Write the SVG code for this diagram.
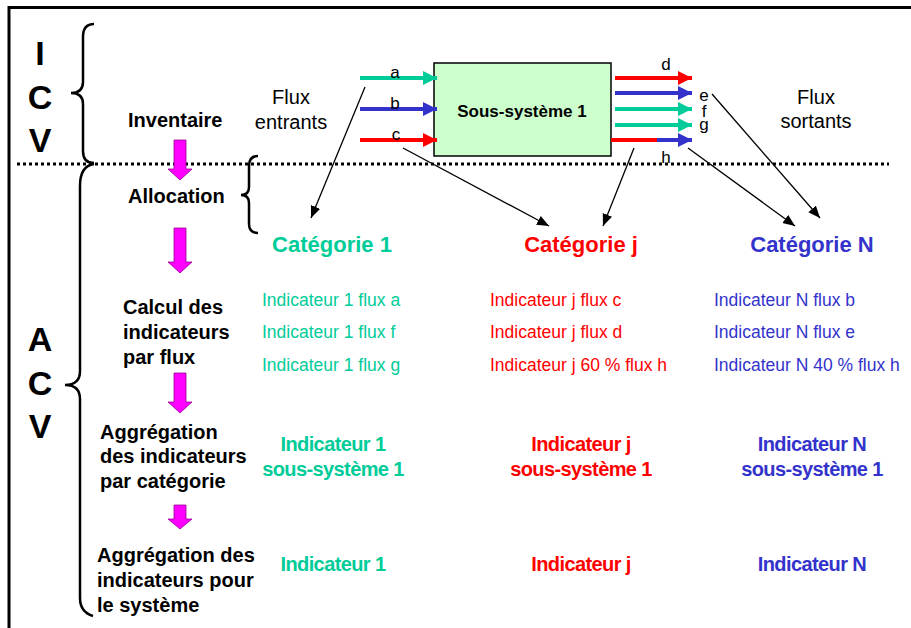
<svg xmlns="http://www.w3.org/2000/svg" width="911" height="628" viewBox="0 0 911 628">
<style>
text{font-family:"Liberation Sans",Arial,sans-serif}
.big{font-size:34px;font-weight:bold;fill:#000;text-anchor:middle}
.lbl{font-size:20px;font-weight:bold;fill:#000}
.flux{font-size:20px;fill:#000;text-anchor:middle}
.let{font-size:17px;fill:#000}
.cat{font-size:22px;font-weight:bold;text-anchor:middle}
.ind{font-size:17.5px}
.agg{font-size:20px;font-weight:bold;text-anchor:middle;letter-spacing:-0.6px}
.teal{fill:#00CC99}.red{fill:#FF0000}.blue{fill:#3333CC}
.brace{fill:none;stroke:#000;stroke-width:2.5}
.thin{stroke:#000;stroke-width:1.3;fill:none}
.fl{stroke-width:4;fill:none}
.mag{fill:#FF00FF;stroke:#990099;stroke-width:0.8}
</style>
<defs>
<marker id="mt" markerUnits="userSpaceOnUse" markerWidth="15" markerHeight="15" refX="14" refY="7" orient="auto"><path d="M0,0 L14,7 L0,14 z" fill="#00CC99"/></marker>
<marker id="mb" markerUnits="userSpaceOnUse" markerWidth="15" markerHeight="15" refX="14" refY="7" orient="auto"><path d="M0,0 L14,7 L0,14 z" fill="#3333CC"/></marker>
<marker id="mr" markerUnits="userSpaceOnUse" markerWidth="15" markerHeight="15" refX="14" refY="7" orient="auto"><path d="M0,0 L14,7 L0,14 z" fill="#FF0000"/></marker>
<marker id="mk" markerUnits="userSpaceOnUse" markerWidth="13" markerHeight="11" refX="12" refY="5" orient="auto"><path d="M0,0 L12,5 L0,10 z" fill="#000"/></marker>
</defs>
<rect width="911" height="628" fill="#fff"/>
<!-- frame -->
<path d="M9,628 L9,7.5 L911,7.5" fill="none" stroke="#000" stroke-width="3"/>
<!-- dotted separator -->
<line x1="17" y1="164" x2="889" y2="164" stroke="#000" stroke-width="3" stroke-dasharray="3 3"/>
<!-- big letters -->
<g id="icv">
<text class="big" x="40" y="65">I</text>
<text class="big" x="40" y="109">C</text>
<text class="big" x="40" y="152">V</text>
<path class="brace" d="M94,24 Q83,24 83,37 L83,82 Q83,93 71,93 Q83,93 83,104 L83,151 Q83,163 94,163"/>
</g>
<g id="acv">
<text class="big" x="40" y="351">A</text>
<text class="big" x="40" y="395">C</text>
<text class="big" x="40" y="438">V</text>
<path class="brace" d="M94,164 Q80,166 80,186 L80,371 Q80,385 65,385 Q80,385 80,399 L80,598 Q80,612 93,616"/>
</g>
<g id="allocation-brace">
<path class="brace" d="M258,156 Q249,156 249,166 L249,187 Q249,195 241,195 Q249,195 249,203 L249,224 Q249,233 258,233"/>
</g>
<!-- step labels -->
<g id="inventaire"><text class="lbl" x="128" y="127">Inventaire</text></g>
<g id="allocation"><text class="lbl" x="128" y="203">Allocation</text></g>
<g id="calcul"><text class="lbl" x="123" y="314">Calcul des</text><text class="lbl" x="123" y="339">indicateurs</text><text class="lbl" x="123" y="364">par flux</text></g>
<g id="aggregation-cat"><text class="lbl" x="100" y="439">Aggrégation</text><text class="lbl" x="100" y="463">des indicateurs</text><text class="lbl" x="100" y="488">par catégorie</text></g>
<g id="aggregation-sys"><text class="lbl" x="97" y="562">Aggrégation des</text><text class="lbl" x="97" y="587">indicateurs pour</text><text class="lbl" x="97" y="612">le système</text></g>
<!-- magenta step arrows -->
<g id="step-arrows">
<path class="mag" d="M174,140 L186,140 L186,169 L192,169 L180,180 L168,169 L174,169 z"/>
<path class="mag" d="M174,228 L186,228 L186,262 L192,262 L180,273 L168,262 L174,262 z"/>
<path class="mag" d="M174,373 L186,373 L186,402 L192,402 L180,413 L168,402 L174,402 z"/>
<path class="mag" d="M174,505 L186,505 L186,519 L192,519 L180,529 L168,519 L174,519 z"/>
</g>
<!-- subsystem box -->
<g id="sous-systeme">
<rect x="434" y="63" width="177" height="93" fill="#CCFFCC" stroke="#000" stroke-width="1.5"/>
<text x="522" y="117" font-size="17" font-weight="bold" text-anchor="middle">Sous-système 1</text>
</g>
<g id="flux-labels">
<text class="flux" x="291" y="104">Flux</text><text class="flux" x="291" y="129">entrants</text>
<text class="flux" x="816" y="104">Flux</text><text class="flux" x="816" y="128">sortants</text>
</g>
<!-- connectors -->
<g id="connectors">
<line class="fl" x1="360" y1="78" x2="437" y2="78" stroke="#00CC99" marker-end="url(#mt)"/>
<line class="fl" x1="360" y1="109" x2="437" y2="109" stroke="#3333CC" marker-end="url(#mb)"/>
<line class="fl" x1="360" y1="140" x2="437" y2="140" stroke="#FF0000" marker-end="url(#mr)"/>
<line class="fl" x1="615" y1="78" x2="692" y2="78" stroke="#FF0000" marker-end="url(#mr)"/>
<line class="fl" x1="615" y1="93" x2="692" y2="93" stroke="#3333CC" marker-end="url(#mb)"/>
<line class="fl" x1="615" y1="109" x2="692" y2="109" stroke="#00CC99" marker-end="url(#mt)"/>
<line class="fl" x1="615" y1="125" x2="692" y2="125" stroke="#00CC99" marker-end="url(#mt)"/>
<line class="fl" x1="611" y1="140" x2="658" y2="140" stroke="#FF0000"/>
<line class="fl" x1="657" y1="140" x2="692" y2="140" stroke="#3333CC" marker-end="url(#mb)"/>
<line class="thin" x1="365" y1="87" x2="311" y2="218" marker-end="url(#mk)"/>
<line class="thin" x1="403" y1="148" x2="549" y2="226" marker-end="url(#mk)"/>
<line class="thin" x1="634" y1="148" x2="603" y2="226" marker-end="url(#mk)"/>
<line class="thin" x1="688" y1="148" x2="795" y2="226" marker-end="url(#mk)"/>
<line class="thin" x1="712" y1="94" x2="820" y2="218" marker-end="url(#mk)"/>
<text class="let" x="395" y="78" text-anchor="middle">a</text>
<text class="let" x="395" y="109" text-anchor="middle">b</text>
<text class="let" x="396" y="140" text-anchor="middle">c</text>
<text class="let" x="666" y="70" text-anchor="middle">d</text>
<text class="let" x="704" y="101" text-anchor="middle">e</text>
<text class="let" x="704" y="117" text-anchor="middle">f</text>
<text class="let" x="704" y="130" text-anchor="middle">g</text>
<text class="let" x="666" y="163" text-anchor="middle">h</text>
</g>
<!-- category columns -->
<g id="categorie-1">
<text class="cat teal" x="332" y="252">Catégorie 1</text>
<text class="ind teal" x="262" y="306">Indicateur 1 flux a</text>
<text class="ind teal" x="262" y="338">Indicateur 1 flux f</text>
<text class="ind teal" x="262" y="371">Indicateur 1 flux g</text>
<text class="agg teal" x="333" y="451">Indicateur 1</text>
<text class="agg teal" x="333" y="476">sous-système 1</text>
<text class="agg teal" x="333" y="571">Indicateur 1</text>
</g>
<g id="categorie-j">
<text class="cat red" x="581" y="252">Catégorie j</text>
<text class="ind red" x="490" y="306">Indicateur j flux c</text>
<text class="ind red" x="490" y="338">Indicateur j flux d</text>
<text class="ind red" x="490" y="371">Indicateur j 60 % flux h</text>
<text class="agg red" x="581" y="451">Indicateur j</text>
<text class="agg red" x="581" y="476">sous-système 1</text>
<text class="agg red" x="581" y="571">Indicateur j</text>
</g>
<g id="categorie-n">
<text class="cat blue" x="812" y="252">Catégorie N</text>
<text class="ind blue" x="714" y="306">Indicateur N flux b</text>
<text class="ind blue" x="714" y="338">Indicateur N flux e</text>
<text class="ind blue" x="714" y="371">Indicateur N 40 % flux h</text>
<text class="agg blue" x="812" y="451">Indicateur N</text>
<text class="agg blue" x="812" y="476">sous-système 1</text>
<text class="agg blue" x="812" y="571">Indicateur N</text>
</g>
</svg>
